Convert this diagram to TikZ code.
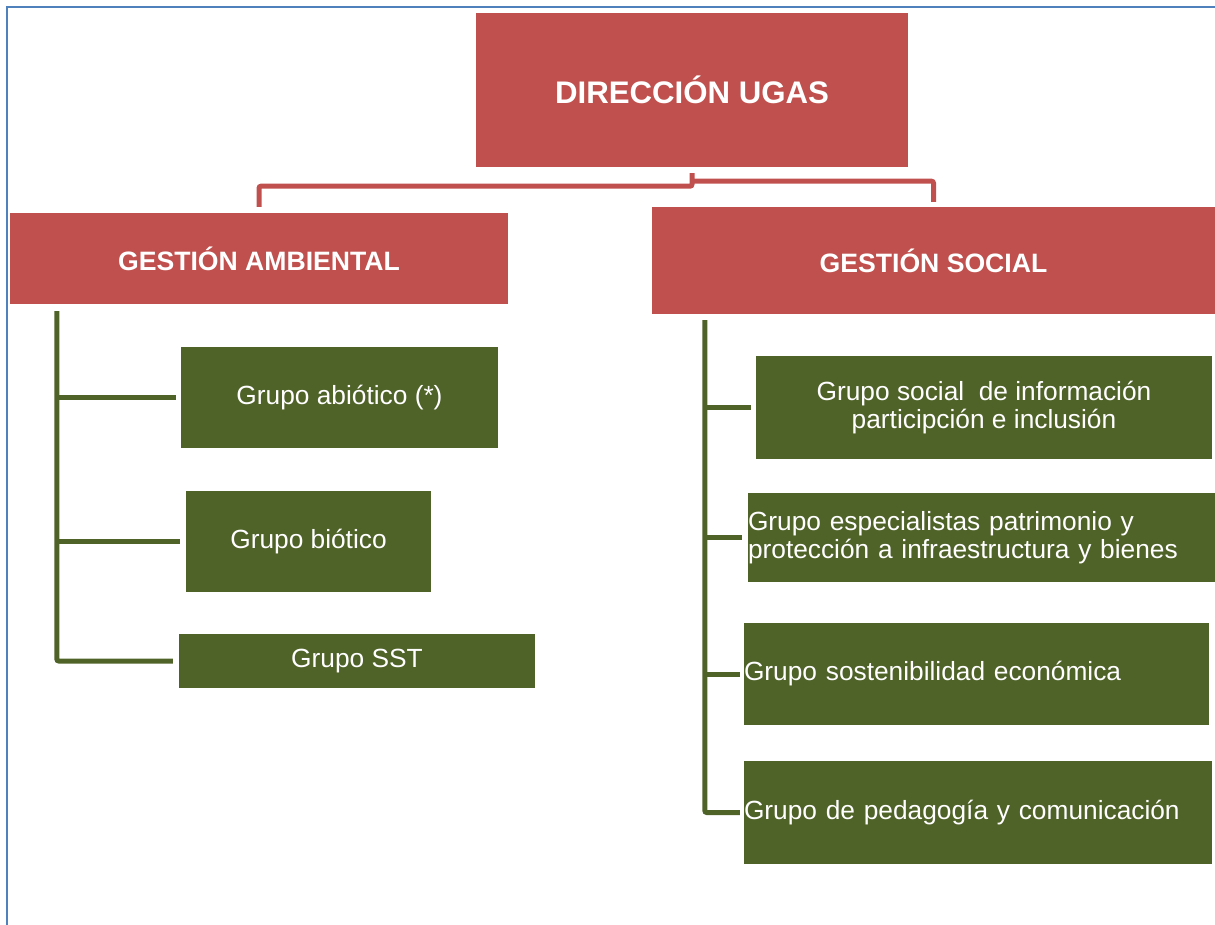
\documentclass[tikz,border=0pt]{standalone}
\usepackage{fontspec}
\setmainfont{Liberation Sans}
\usepackage{tikz}
\usetikzlibrary{positioning}

\definecolor{ugasred}{HTML}{C0504D}
\definecolor{ugasgreen}{HTML}{4F6228}
\definecolor{ugasblue}{HTML}{4F81BD}

\begin{document}
\begin{tikzpicture}[x=1pt,y=-1pt]
  \tikzset{redbox/.style = {fill=ugasred,text=white,inner sep=0pt,font=\fontsize{26.6}{28}\selectfont\bfseries}}
  \tikzset{greenbox/.style = {fill=ugasgreen,text=white,inner sep=0pt,font=\fontsize{26.3}{28}\selectfont}}
  \tikzset{leftbox/.style = {greenbox,align=left,inner xsep=0pt}}
  \tikzset{redline/.style = {draw=ugasred,line width=5pt,rounded corners=2pt}}
  \tikzset{greenline/.style = {draw=ugasgreen,line width=5pt,rounded corners=2pt}}

  \useasboundingbox (0,0) rectangle (1215,924);
  \begin{scope}
    \clip (0,0) rectangle (1215,924);
    \draw[ugasblue,line width=2pt] (6.5,940) |- (1230,6.5);
  \end{scope}

	\node[redbox,minimum width=432pt,minimum height=154pt,font=\fontsize{31.2}{34}\selectfont\bfseries] (dir) at (692,90) {DIRECCIÓN UGAS};
	\node[redbox,minimum width=498pt,minimum height=91pt] (amb) at (259,258.5) {GESTIÓN AMBIENTAL};
	\node[redbox,minimum width=563pt,minimum height=107pt] (soc) at (933.5,260.5) {GESTIÓN SOCIAL};

	\node[greenbox,minimum width=317pt,minimum height=101pt] (abio) at (339.5,397.5) {Grupo abiótico (*)};
	\node[greenbox,minimum width=245pt,minimum height=101pt] (bio) at (308.5,541.5) {Grupo biótico};
	\node[greenbox,minimum width=356pt,minimum height=54pt] (sst) at (357,661) {Grupo SST};

	\node[greenbox,align=center,minimum width=456pt,minimum height=103pt] (info) at (984,407.5) {Grupo social~ de información\\participción e inclusión};
	\node[leftbox,text width=467pt,minimum height=89pt] (esp) at (981.5,537.5) {Grupo especialistas patrimonio y\\protección a infraestructura y bienes};
	\node[leftbox,text width=465pt,minimum height=102pt] (sost) at (976.5,674) {Grupo sostenibilidad económica};
	\node[leftbox,text width=468pt,minimum height=103pt] (ped) at (978,812.5) {Grupo de pedagogía y comunicación};

	% red connectors
	\coordinate (top) at ([yshift=-6pt]dir.south);
	\draw[redline] (top) -- ++(0,13) -| ([yshift=6pt]amb.north);
	\draw[redline] (top) ++(0,8) -| ([yshift=5pt]soc.north);

	% green connectors
	\coordinate (ltop) at ([xshift=47pt,yshift=-7pt]amb.south west);
	\coordinate (rtop) at ([xshift=53pt,yshift=-6pt]soc.south west);
	\draw[greenline] (ltop) |- ([xshift=-6pt]sst.west);
	\draw[greenline] (rtop) |- ([xshift=-4pt]ped.west);
       \foreach \to/\gap in {abio/5, bio/6}
    \draw[greenline] (ltop |- \to.west) -- ([xshift=-\gap pt]\to.west);
       \foreach \to/\gap in {info/5, esp/6, sost/4}
    \draw[greenline] (rtop |- \to.west) -- ([xshift=-\gap pt]\to.west);

\end{tikzpicture}
\end{document}
